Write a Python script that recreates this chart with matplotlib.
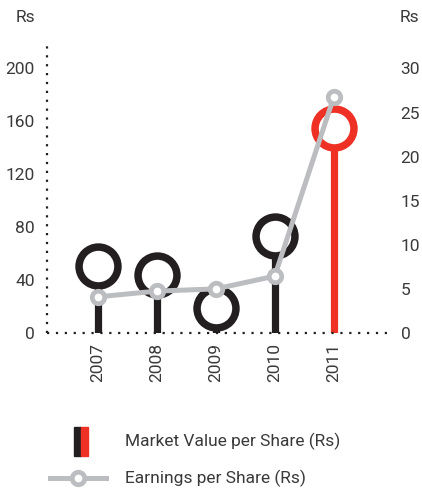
import matplotlib
matplotlib.use('Agg')
import matplotlib.pyplot as plt
from matplotlib.patches import Rectangle
from matplotlib.lines import Line2D

plt.rcParams['font.family'] = ['Roboto', 'DejaVu Sans']

years = ['2007', '2008', '2009', '2010', '2011']
market_value = [51, 44, 19, 73, 155]
eps = [4.1, 4.75, 5.0, 6.45, 26.75]
left_ticks = [0, 40, 80, 120, 160, 200]
right_ticks = [0, 5, 10, 15, 20, 25, 30]

black = '#231f20'
red = '#ee3124'
gray = '#bcbdc0'
text_col = '#3a3a3a'
fs = 12.5

fig = plt.figure(figsize=(4.22, 4.91), dpi=100)
ax = fig.add_axes([47 / 422, 1 - 333 / 491, (388 - 47) / 422, (333 - 42) / 491])
ax2 = ax.twinx()

x = list(range(len(years)))
colors = [black] * 4 + [red]

# stems and rings for market value
for xi, v, c in zip(x, market_value, colors):
    ax.plot([xi, xi], [0, v], color=c, lw=5.2, solid_capstyle='butt', zorder=2)
    ax.plot(xi, v, 'o', ms=28, mew=5.4, mec=c, mfc='white', zorder=3)

ax.set_xlim(-0.86, 4.92)
ax.set_ylim(0, 220)
ax2.set_ylim(0, 220 * 30 / 200)

# earnings line on top
ax2.plot(x, eps, '-', color=gray, lw=3.6, zorder=4)
ax2.plot(x, eps, 'o', ms=9, mew=3.4, mec=gray, mfc='white', zorder=5)
ax2.set_zorder(ax.get_zorder() + 1)
ax2.patch.set_visible(False)

for a in (ax, ax2):
    for s in ['top', 'right', 'left', 'bottom']:
        a.spines[s].set_visible(False)

ax.spines['left'].set_visible(True)
ax.spines['bottom'].set_visible(True)
for s in ['left', 'bottom']:
    ax.spines[s].set_linestyle((0, (1, 3)))
    ax.spines[s].set_linewidth(1.6)
    ax.spines[s].set_color(black)
    ax.spines[s].set_capstyle('butt')

ax.set_xticks(x)
ax.set_xticklabels(years, rotation=90, fontsize=fs, color=text_col)
ax.set_yticks(left_ticks)
ax.set_yticklabels([str(t) for t in left_ticks], fontsize=fs, color=text_col)
ax2.set_yticks(right_ticks)
ax2.set_yticklabels([str(t) for t in right_ticks], fontsize=fs, color=text_col)
ax.tick_params(axis='both', length=0)
ax.tick_params(axis='x', pad=7)
ax.tick_params(axis='y', pad=9)
ax2.tick_params(axis='y', length=0, pad=9)

fig.text(25 / 422, 1 - 17 / 491, 'Rs', fontsize=fs, color=text_col, ha='center', va='center')
fig.text(409 / 422, 1 - 17 / 491, 'Rs', fontsize=fs, color=text_col, ha='center', va='center')

# legend
fig.patches.append(Rectangle((74 / 422, 1 - 456 / 491), 7 / 422, 29 / 491,
                             transform=fig.transFigure, color=black))
fig.patches.append(Rectangle((81 / 422, 1 - 456 / 491), 7 / 422, 29 / 491,
                             transform=fig.transFigure, color=red))
fig.text(125 / 422, 1 - 441 / 491, 'Market Value per Share (Rs)', fontsize=fs,
         color=text_col, va='center')
fig.lines.append(Line2D([50 / 422, 106 / 422], [1 - 478 / 491, 1 - 478 / 491],
                        transform=fig.transFigure, color=gray, lw=3.6))
fig.lines.append(Line2D([78 / 422], [1 - 478 / 491], transform=fig.transFigure,
                        marker='o', ms=9, mew=3.4, mec=gray, mfc='white'))
fig.text(125 / 422, 1 - 478 / 491, 'Earnings per Share (Rs)', fontsize=fs,
         color=text_col, va='center')

fig.savefig('out.png', dpi=100)
